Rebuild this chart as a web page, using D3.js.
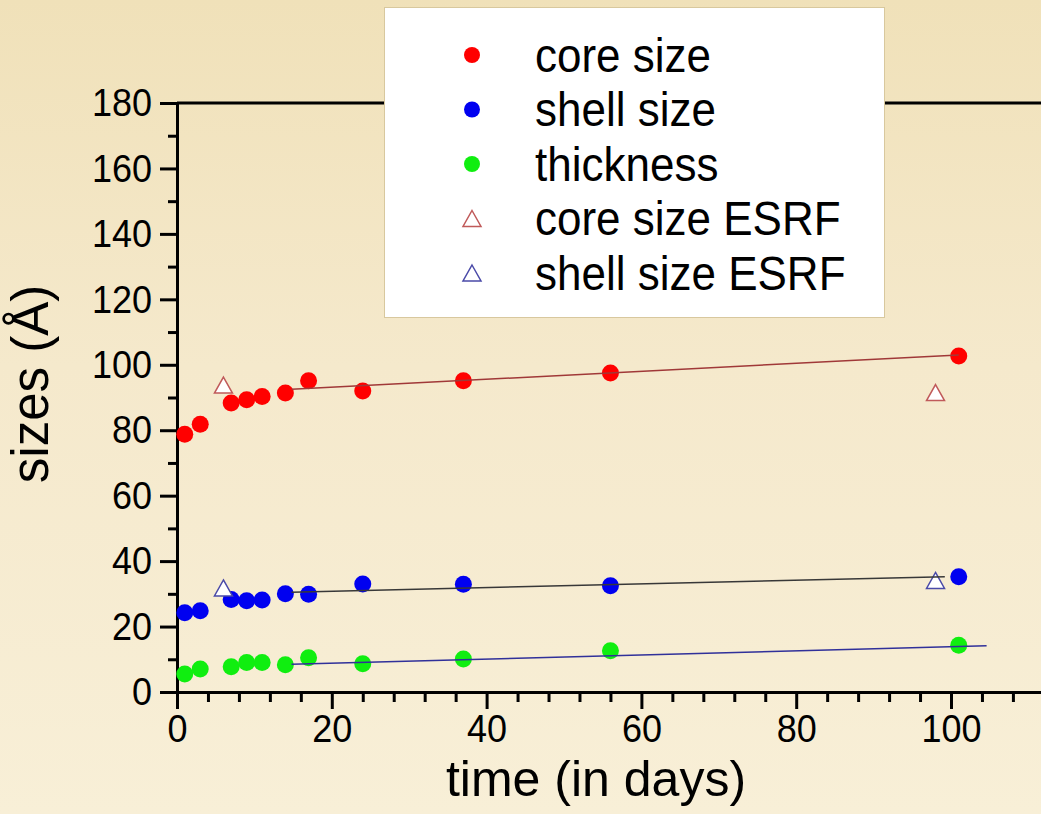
<!DOCTYPE html>
<html>
<head>
<meta charset="utf-8">
<script src="https://cdn.jsdelivr.net/npm/d3@7"></script>
<style>
  html, body { margin: 0; padding: 0; overflow: hidden; }
  svg { display: block; font-family: "Liberation Sans", Arial, sans-serif; }
  .tall { transform-box: fill-box; transform-origin: center; transform: scaleY(1.1); }
</style>
</head>
<body>
<svg id="chart"></svg>
<script>
// measured values (days / Angstrom)
const days = [1, 3, 7, 9, 11, 14, 17, 24, 37, 56, 101];
const coreSize = [78.8, 81.8, 88.3, 89.3, 90.3, 91.4, 95.1, 92.0, 95.1, 97.5, 102.7];
const shellSize = [24.2, 24.8, 28.3, 27.9, 28.1, 30.0, 29.9, 33.0, 32.9, 32.5, 35.2];
const thickness = [5.5, 7.0, 7.7, 9.0, 9.0, 8.3, 10.5, 8.6, 10.1, 12.6, 14.3];

const esrfDays = [6, 98];
const coreSizeESRF = [93.8, 91.5];
const shellSizeESRF = [31.8, 34.1];

// linear fit segments [day, value]
const fitCore = [[14.8, 92.5], [101, 103.0]];
const fitShell = [[14.8, 30.5], [99.2, 35.2]];
const fitThickness = [[14.8, 8.5], [104.6, 14.1]];

const xTicks = [0, 20, 40, 60, 80, 100];
const yTicks = [0, 20, 40, 60, 80, 100, 120, 140, 160, 180];
const legendLabels = ["core size", "shell size", "thickness", "core size ESRF", "shell size ESRF"];

const width = 1041, height = 814;
const svg = d3.select("#chart").attr("width", width).attr("height", height);

const defs = svg.append("defs");
const grad = defs.append("linearGradient").attr("id", "bg")
    .attr("x1", 0).attr("y1", 0).attr("x2", 0).attr("y2", 1);
grad.append("stop").attr("offset", "0%").attr("stop-color", "#f0e1b9");
grad.append("stop").attr("offset", "45%").attr("stop-color", "#f5e9cc");
grad.append("stop").attr("offset", "100%").attr("stop-color", "#f8efd7");
svg.append("rect").attr("width", width).attr("height", height).attr("fill", "url(#bg)");

const x = d3.scaleLinear().domain([0, 115]).range([177, 177 + 115 * 7.74]);
const y = d3.scaleLinear().domain([0, 180]).range([692, 103]);

// top frame line
svg.append("line")
    .attr("x1", x(0)).attr("x2", width + 10)
    .attr("y1", y(180)).attr("y2", y(180))
    .attr("stroke", "#000").attr("stroke-width", 3);

// minor ticks
const yMinor = d3.axisLeft(y).tickValues(d3.range(10, 180, 20)).tickSize(9).tickFormat("");
const xMinor = d3.axisBottom(x).tickValues(d3.range(0, 116, 4).filter(d => d % 20 !== 0)).tickSize(10).tickFormat("");

const yAxis = d3.axisLeft(y).tickValues(yTicks).tickSize(17).tickPadding(8).tickSizeOuter(0);
const xAxis = d3.axisBottom(x).tickValues(xTicks).tickSize(17).tickPadding(6).tickSizeOuter(0);

function styleAxis(g) {
    g.selectAll("path, line").attr("stroke", "#000").attr("stroke-width", 3);
    g.selectAll("text").attr("fill", "#000").style("font-size", "36px")
        .attr("class", "tall");
}

svg.append("g").attr("transform", `translate(${x(0)},0)`).call(yMinor).call(styleAxis);
svg.append("g").attr("transform", `translate(0,${y(0)})`).call(xMinor).call(styleAxis);
svg.append("g").attr("transform", `translate(${x(0)},0)`).call(yAxis).call(styleAxis);
svg.append("g").attr("transform", `translate(0,${y(0)})`).call(xAxis).call(styleAxis);

// axis titles
svg.append("text")
    .attr("transform", `translate(48,${(285 + 483) / 2}) rotate(-90)`)
    .attr("text-anchor", "middle")
    .style("font-size", "51px")
    .text("sizes (Å)");

svg.append("text")
    .attr("x", 596).attr("y", 796)
    .attr("text-anchor", "middle")
    .style("font-size", "50px")
    .text("time (in days)");

// markers
const triW = 18, triH = 16;
const triPath = `M0,${-triH / 2}L${triW / 2},${triH / 2}L${-triW / 2},${triH / 2}Z`;

const circleSeries = [
    { values: coreSize, color: "#ff0000" },
    { values: shellSize, color: "#0000f0" },
    { values: thickness, color: "#10ee10" }
];
const triSeries = [
    { values: coreSizeESRF, color: "#c05a5a" },
    { values: shellSizeESRF, color: "#4a4aa8" }
];
const fits = [
    { pts: fitCore, color: "#a03838" },
    { pts: fitShell, color: "#383838" },
    { pts: fitThickness, color: "#30309a" }
];

const plot = svg.append("g");

circleSeries.forEach(s => {
    plot.append("g").selectAll("circle")
        .data(days.map((d, i) => [d, s.values[i]]))
        .join("circle")
        .attr("cx", d => x(d[0]))
        .attr("cy", d => y(d[1]))
        .attr("r", 8.5)
        .attr("fill", s.color);
});

triSeries.forEach(s => {
    plot.append("g").selectAll("path")
        .data(esrfDays.map((d, i) => [d, s.values[i]]))
        .join("path")
        .attr("d", triPath)
        .attr("transform", d => `translate(${x(d[0])},${y(d[1])})`)
        .attr("fill", "#ffffff")
        .attr("stroke", s.color)
        .attr("stroke-width", 1.5);
});

const line = d3.line().x(d => x(d[0])).y(d => y(d[1]));
fits.forEach(f => {
    plot.append("path")
        .attr("d", line(f.pts))
        .attr("fill", "none")
        .attr("stroke", f.color)
        .attr("stroke-width", 1.5);
});

// legend
const legend = svg.append("g").attr("transform", "translate(384,7)");
legend.append("rect")
    .attr("x", 0.5).attr("y", 0.5)
    .attr("width", 500).attr("height", 310)
    .attr("fill", "#ffffff")
    .attr("stroke", "#d8c89e").attr("stroke-width", 1);

const legendMarks = [
    { type: "circle", color: "#ff0000" },
    { type: "circle", color: "#0000f0" },
    { type: "circle", color: "#10ee10" },
    { type: "tri", color: "#c05a5a" },
    { type: "tri", color: "#4a4aa8" }
];

const rows = legend.selectAll("g.row")
    .data(legendLabels)
    .join("g")
    .attr("class", "row")
    .attr("transform", (d, i) => `translate(0,${48 + i * 54.5})`);

rows.each(function(d, i) {
    const g = d3.select(this);
    const m = legendMarks[i];
    if (m.type === "circle") {
        g.append("circle").attr("cx", 88).attr("cy", 0).attr("r", 8).attr("fill", m.color);
    } else {
        g.append("path").attr("d", triPath)
            .attr("transform", "translate(88,0)")
            .attr("fill", "#ffffff").attr("stroke", m.color).attr("stroke-width", 1.5);
    }
    g.append("text")
        .attr("x", 151).attr("y", 15)
        .attr("class", "tall")
        .style("font-size", "44px")
        .text(d);
});
</script>
</body>
</html>
